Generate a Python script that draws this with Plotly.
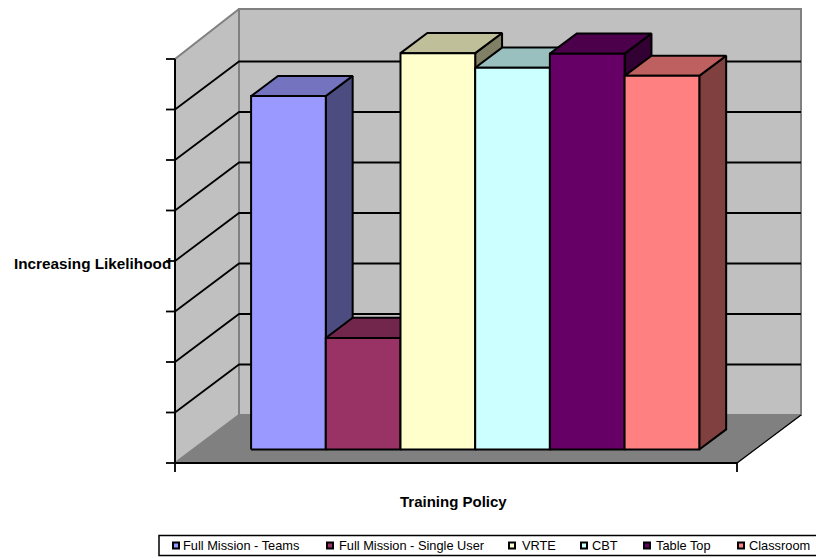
import plotly.graph_objects as go

# Chart content
categories = ["Full Mission - Teams", "Full Mission - Single User", "VRTE", "CBT", "Table Top", "Classroom"]
values = [7.0, 2.21, 7.85, 7.56, 7.84, 7.4]
front_colors = ["#9999FF", "#993366", "#FFFFCC", "#CCFFFF", "#660066", "#FF8080"]
value_ticks = [0, 1, 2, 3, 4, 5, 6, 7, 8]
x_title = "Training Policy"
y_title = "Increasing Likelihood"

# Page and plot-box geometry, in pixels
W, H = 816, 558
ORIGIN_X, ORIGIN_Y = 175.0, 463.0
BOX_W = 562.0
UNIT_H = 50.5
DEPTH_X, DEPTH_Y = 64.0, 48.0
VALUE_MAX = value_ticks[-1]
BACK_TOP = VALUE_MAX + 2 / UNIT_H

# Bars occupy this slab of the box depth and this share of its width
BAR_D0, BAR_D1 = 0.28, 0.70
BAR_X0, BAR_W = 0.1035, 74.7 / BOX_W

# Legend layout, in pixels
LEGEND_MARK_X = [176, 330, 512, 584, 647, 741]
LEGEND_TEXT_X = [182, 338, 520.5, 590.5, 654.5, 747.5]
LEGEND_TOP, LEGEND_BOTTOM, LEGEND_LEFT = 535.5, 555.5, 159


def project(x, v, d):
    """Oblique projection of (width fraction, value, depth fraction) onto the axes."""
    return x + d * DEPTH_X / BOX_W, v + d * DEPTH_Y / UNIT_H


def shade(color, k):
    r, g, b = (int(color[i:i + 2], 16) for i in (1, 3, 5))
    return f"rgb({round(r * k)},{round(g * k)},{round(b * k)})"


fig = go.Figure()


def face(points, fill=None, line="#000000", width=2.0, name=None):
    xs, ys = zip(*(project(*p) for p in points))
    closed = fill is not None
    fig.add_trace(go.Scatter(
        x=list(xs) + ([xs[0]] if closed else []),
        y=list(ys) + ([ys[0]] if closed else []),
        mode="lines",
        fill="toself" if closed else None,
        fillcolor=fill,
        line=dict(color=line, width=width),
        name=name,
        showlegend=False,
        hoverinfo="skip" if name is None else "name",
    ))


# Walls and floor
face([(0, 0, 0), (0, VALUE_MAX, 0), (0, BACK_TOP, 1), (0, 0, 1)], "#C0C0C0", "#808080", 2)
face([(0, 0, 1), (0, BACK_TOP, 1), (1, BACK_TOP, 1), (1, 0, 1)], "#C0C0C0", "#808080", 2)
face([(0, 0, 0), (0, 0, 1), (1, 0, 1), (1, 0, 0)], "#808080", "#808080", 1)

# Gridlines along the side and back walls
for t in value_ticks[1:-1]:
    face([(0, t, 0), (0, t, 1), (1, t, 1)], width=1.8)

# Right edge of the floor, then the two axis lines with their ticks
face([(1, 0, 0), (1, 0, 1)], width=1.4)
face([(0, 0, 0), (0, VALUE_MAX, 0)], width=2)
face([(0, 0, 0), (1, 0, 0)], width=2.2)
TICK_LEFT = 9 / BOX_W
TICK_DOWN = 9 / UNIT_H
for t in value_ticks:
    face([(-TICK_LEFT, t, 0), (0, t, 0)], width=1.8)
for x in (0, 1):
    face([(x, 0, 0), (x, -TICK_DOWN, 0)], width=1.8)

# Columns, painted left to right so each front face covers its neighbour's side
for i, (name, v, c) in enumerate(zip(categories, values, front_colors)):
    x0 = BAR_X0 + i * BAR_W
    x1 = x0 + BAR_W
    face([(x1, 0, BAR_D0), (x1, v, BAR_D0), (x1, v, BAR_D1), (x1, 0, BAR_D1)], shade(c, 0.5), name=name)
    face([(x0, v, BAR_D0), (x0, v, BAR_D1), (x1, v, BAR_D1), (x1, v, BAR_D0)], shade(c, 0.75), name=name)
    face([(x0, 0, BAR_D0), (x0, v, BAR_D0), (x1, v, BAR_D0), (x1, 0, BAR_D0)], c, name=name)

annotations = [
    dict(text=f"<b>{x_title}</b>", x=453 / W, y=1 - 501 / H, font=dict(size=15)),
    dict(text=f"<b>{y_title}</b>", x=92.5 / W, y=1 - 263 / H, font=dict(size=15.3)),
]
shapes = [dict(type="rect", xref="paper", yref="paper", layer="below",
               x0=LEGEND_LEFT / W, x1=(W + 5) / W, y0=1 - LEGEND_BOTTOM / H, y1=1 - LEGEND_TOP / H,
               line=dict(color="#000000", width=1.5), fillcolor="#FFFFFF")]

# Legend row: square swatch with a heavy outline, followed by its label
LEGEND_Y = (LEGEND_TOP + LEGEND_BOTTOM) / 2
for name, c, mx, tx in zip(categories, front_colors, LEGEND_MARK_X, LEGEND_TEXT_X):
    shapes.append(dict(type="rect", xref="paper", yref="paper",
                       x0=(mx - 3) / W, x1=(mx + 3) / W,
                       y0=1 - (LEGEND_Y + 3) / H, y1=1 - (LEGEND_Y - 3) / H,
                       line=dict(color="#000000", width=2), fillcolor=c))
    annotations.append(dict(text=name, x=tx / W, y=1 - LEGEND_Y / H, xanchor="left",
                            font=dict(size=12.8)))

for a in annotations:
    a.update(xref="paper", yref="paper", showarrow=False, borderpad=0)
    a.setdefault("xanchor", "center")
    a["yanchor"] = "middle"

fig.update_layout(
    width=W, height=H,
    margin=dict(l=0, r=0, t=0, b=0),
    paper_bgcolor="#FFFFFF", plot_bgcolor="#FFFFFF",
    font=dict(family="Liberation Sans, Arial, sans-serif", color="#000000"),
    showlegend=False,
    annotations=annotations,
    shapes=shapes,
    xaxis=dict(visible=False, range=[-ORIGIN_X / BOX_W, (W - ORIGIN_X) / BOX_W], fixedrange=True),
    yaxis=dict(visible=False, range=[(ORIGIN_Y - H) / UNIT_H, ORIGIN_Y / UNIT_H], fixedrange=True),
)

fig.write_html("out.html", config=dict(displayModeBar=False))
